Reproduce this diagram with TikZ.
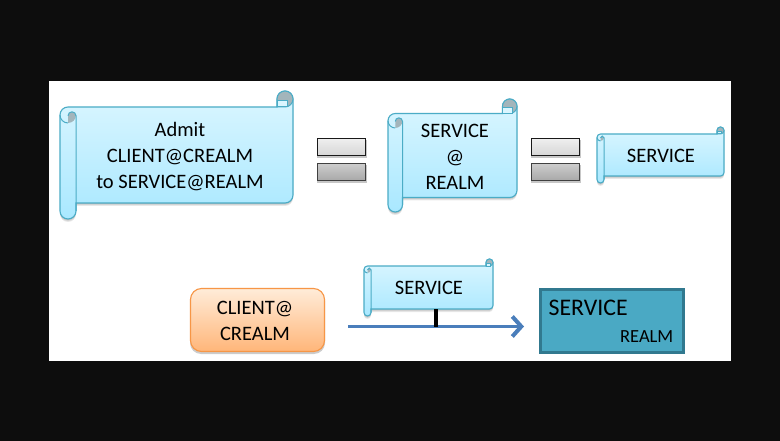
\documentclass[tikz,border=0pt]{standalone}
\usepackage{fontspec}
\setmainfont{Carlito}
\usetikzlibrary{arrows.meta}
\definecolor{scrolledge}{HTML}{4BACC6}
\definecolor{scrolltop}{HTML}{DBF6FF}
\definecolor{scrollbot}{HTML}{A9E8FF}
\definecolor{curlgray}{HTML}{A3B5BB}
\definecolor{orangeedge}{HTML}{F79646}
\definecolor{boxfill}{HTML}{4AA9C4}
\definecolor{boxedge}{HTML}{31798F}
\definecolor{arrowblue}{HTML}{4A7EBB}
\definecolor{barA}{HTML}{EFEFEF}
\definecolor{barB}{HTML}{D6D6D6}
\definecolor{barC}{HTML}{CDCDCD}
\definecolor{barD}{HTML}{A8A8A8}
\tikzset{
  scrollfill/.style={draw=scrolledge,line width=1.1pt,top color=scrolltop,bottom color=scrollbot},
  scrollline/.style={draw=scrolledge,line width=1pt},
  softshadow/.style={fill=black,draw=none,opacity=.09},
  label/.style={inner sep=0pt,align=center,text=black,font=\fontsize{20.5}{26}\selectfont},
  barbox/.style={line width=1.2pt,minimum width=48pt,minimum height=17pt,inner sep=0pt},
  barlight/.style={barbox,draw=black!90,top color=barA,bottom color=barB},
  bardark/.style={barbox,draw=black!75,top color=barC,bottom color=barD},
  tick/.style={draw=black,line width=4pt},
  flow/.style={draw=arrowblue,line width=3.8pt,-{Straight Barb[length=9pt,width=20pt,line width=4pt]}}
}
% #1 name, #2 x0, #3 y0, #4 x1, #5 y1, #6 roll width
\newcommand{\scrollo}[6]{%
  \pgfmathsetmacro{\xa}{#2}\pgfmathsetmacro{\xb}{#2+#6/2}\pgfmathsetmacro{\xc}{#2+#6}%
  \pgfmathsetmacro{\xd}{#4-#6}\pgfmathsetmacro{\xe}{#4-#6/3}\pgfmathsetmacro{\xf}{#4}%
  \pgfmathsetmacro{\ya}{#3}\pgfmathsetmacro{\yb}{#3+#6/2}\pgfmathsetmacro{\yc}{#3+#6}%
  \pgfmathsetmacro{\yd}{#3+1.5*#6}\pgfmathsetmacro{\ye}{#5-#6}\pgfmathsetmacro{\yf}{#5-#6/2}%
  \pgfmathsetmacro{\yg}{#5}\pgfmathsetmacro{\rad}{#6/2}%
  \pgfmathsetmacro{\qr}{#6/4}\pgfmathsetmacro{\gtop}{#3+1.5*#6+0.05*#6}%
  \pgfmathsetmacro{\lt}{#3+0.62*#6}%
  \foreach \s in {1,2,3}{\path[softshadow,shift={(0,\s)}] (\xa,\yd) arc (180:270:\rad) -- (\xd,\yc) -- (\xd,\yb) arc (180:360:\rad)
     -- (\xf,{\ye-\rad}) arc (0:90:\rad) -- (\xc,\ye) -- (\xc,\yf) arc (0:180:\rad) -- cycle;}
  \path[scrollfill] (\xa,\yd) arc (180:270:\rad) -- (\xd,\yc) -- (\xd,\yb) arc (180:360:\rad)
     -- (\xf,{\ye-\rad}) arc (0:90:\rad) -- (\xc,\ye) -- (\xc,\yf) arc (0:180:\rad) -- cycle;
  % left curl
  \path[fill=curlgray] (\xb,{\yd+\rad}) -- (\xb,\gtop) arc (180:360:\qr) -- (\xc,\yd) arc (0:90:\rad) -- cycle;
  \path[scrollline] (\xb,\gtop) arc (180:360:\qr) -- (\xc,\yf);
  \path[scrollline] (\xa,\yd) arc (180:90:\rad);
  % right curl
  \path[scrollline,fill=curlgray] (\xd,\yc) -- (\xd,\yb) arc (180:360:\rad) -- (\xf,\yb) arc (0:90:\rad) -- cycle;
  \path[scrollline,fill=scrolltop] (\xd,\yc) -- (\xd,\lt) -- (\xe,\lt) -- (\xe,\yc) -- cycle;
  \coordinate (#1) at ({(\xa+\xf)/2},{(\ya+\yg)/2});
  \coordinate (#1-bottom) at ({(\xa+\xf)/2},\ye);
}
\begin{document}
\begin{tikzpicture}[x=1pt,y=-1pt]
\useasboundingbox (0,0) rectangle (780,441);
\fill[black!95] (0,0) rectangle (780,441);
\fill[white] (49,81) rectangle (731,361);

\scrollo{sa}{60}{91}{293}{219}{16}
\node[label] (admit) at (180,157) {Admit\\CLIENT@CREALM\\to SERVICE@REALM};

\fill[black,opacity=.22] (316.5,140) rectangle (366.5,158.5);
\fill[black,opacity=.22] (316.5,165) rectangle (366.5,183.5);
\node[barlight] (e1a) at (341.5,147) {};
\node[bardark] (e1b) at (341.5,172) {};

\scrollo{sb}{388}{99}{517}{212}{14.5}
\node[label] (mid) at (455,157) {SERVICE\\@\\REALM};

\fill[black,opacity=.22] (530.5,140) rectangle (580.5,158.5);
\fill[black,opacity=.22] (530.5,165) rectangle (580.5,183.5);
\node[barlight] (e2a) at (555.5,147) {};
\node[bardark] (e2b) at (555.5,172) {};

\scrollo{sc}{597}{127}{724}{183}{7}
\node[label] (svcr) at (661,156) {SERVICE};

\fill[black,opacity=.2,rounded corners=11pt] (190,290) rectangle (325,354);
\node[draw=orangeedge,line width=1.1pt,rounded corners=11pt,top color=orange!15!white,bottom color=orange!50!white!95!red,
  minimum width=134pt,minimum height=63pt,inner sep=0pt] (client) at (257.5,320) {};
\node[label] (clienttext) at (255,320.5) {CLIENT@\\CREALM};

\scrollo{sd}{364}{259}{493}{316}{7}
\node[label] (svcl) at (429,288) {SERVICE};

\node[draw=boxedge,line width=3pt,fill=boxfill,minimum width=143pt,minimum height=63pt,inner sep=0pt] (target) at (611.5,320.5) {};
\node[label,font=\fontsize{23.8}{26}\selectfont,anchor=west] (targetsvc) at (548.5,308) {SERVICE};
\node[label,font=\fontsize{18.5}{22}\selectfont,anchor=east] (targetrealm) at (673.5,337) {REALM};

\coordinate (from) at (348,326.5);
\coordinate (to) at (524,326.5);
\coordinate (hit) at (436,327);
\draw[flow] (from) -- (to);
\draw[tick] (sd-bottom -| hit) -- (hit);
\end{tikzpicture}
\end{document}
